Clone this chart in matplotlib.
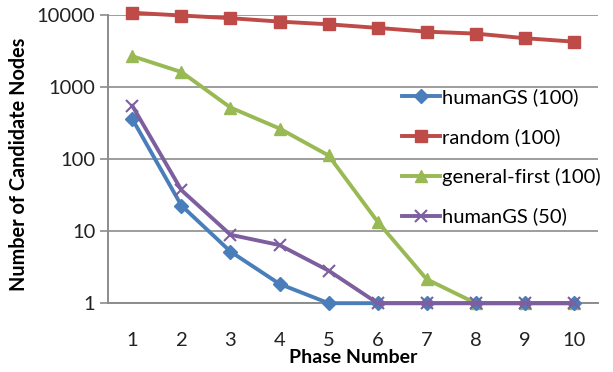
import numpy as np
import matplotlib.pyplot as plt

# data
phases = [1, 2, 3, 4, 5, 6, 7, 8, 9, 10]
human_100 = [357, 22.6, 5.2, 1.85, 1, 1, 1, 1, 1, 1]
random_100 = [10700, 9800, 9000, 8070, 7400, 6600, 5850, 5500, 4750, 4250]
general_first_100 = [2670, 1610, 518, 265, 112, 13.5, 2.15, 1, 1, 1]
human_50 = [545, 37, 8.9, 6.4, 2.83, 1, 1, 1, 1, 1]

plt.rcParams['font.family'] = ['Lato', 'DejaVu Sans']

fig = plt.figure(figsize=(6.13, 3.72), dpi=100)
ax = fig.add_axes([0.176, 0.185, 0.80, 0.775])

lw = 2.8
ax.plot(phases, human_100, color='#4A7EBB', lw=lw, marker='D', ms=7, label='humanGS (100)', clip_on=False, zorder=5)
ax.plot(phases, random_100, color='#BE4B48', lw=lw, marker='s', ms=8.5, label='random (100)', clip_on=False, zorder=3)
ax.plot(phases, general_first_100, color='#98B954', lw=lw, marker='^', ms=9, label='general-first (100)', clip_on=False, zorder=3)
ax.plot(phases, human_50, color='#7D5FA0', lw=lw, marker='x', ms=9, mew=1.5, label='humanGS (50)', clip_on=False, zorder=6)

ax.set_yscale('log')
ax.set_ylim(1, 10000)
ax.set_xlim(0.5, 10.5)
ax.set_yticks([1, 10, 100, 1000, 10000])
ax.set_yticklabels(['1', '10', '100', '1000', '10000'])
ax.minorticks_off()
ax.set_xticks(phases)
ax.set_xticklabels([str(p) for p in phases])

ax.grid(axis='y', color='#8c8c8c', lw=1.2)
ax.set_axisbelow(True)
for s in ['top', 'right']:
    ax.spines[s].set_visible(False)
for s in ['left', 'bottom']:
    ax.spines[s].set_color('#8c8c8c')
    ax.spines[s].set_linewidth(1.4)

ax.tick_params(axis='y', length=6, width=1.2, color='#8c8c8c', labelsize=14.5, pad=3, labelcolor='#222222')
ax.tick_params(axis='x', length=0, labelsize=14.5, pad=21, labelcolor='#222222')

ax.set_xlabel('Phase Number', fontsize=14, fontweight='bold', labelpad=0)
ax.set_ylabel('Number of Candidate Nodes', fontsize=14.3, fontweight='bold')
ax.yaxis.set_label_coords(-0.161, 0.483)

ax.legend(loc='upper left', bbox_to_anchor=(0.655, 0.762), bbox_transform=fig.transFigure,
          frameon=False, fontsize=14.5, handlelength=1.9, handletextpad=0.1,
          labelspacing=1.08, borderpad=0, borderaxespad=0)

fig.savefig('out.png', dpi=100)
